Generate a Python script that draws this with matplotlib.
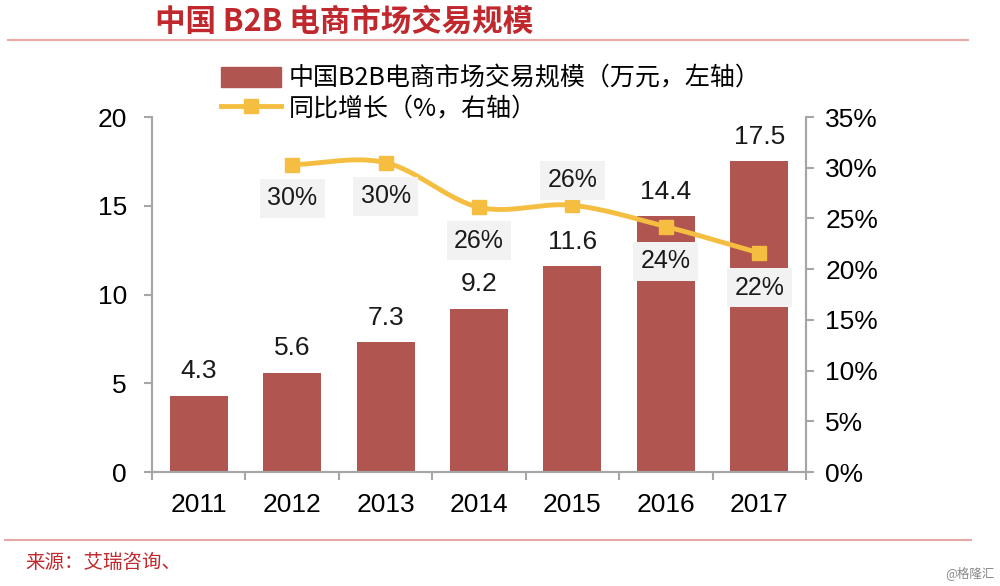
import numpy as np
import matplotlib
matplotlib.use("Agg")
import matplotlib.pyplot as plt
from matplotlib.lines import Line2D
from matplotlib.patches import Patch

years = ["2011", "2012", "2013", "2014", "2015", "2016", "2017"]
scale = [4.3, 5.6, 7.3, 9.2, 11.6, 14.4, 17.5]
growth_years = ["2012", "2013", "2014", "2015", "2016", "2017"]
growth = [30.3, 30.5, 26.1, 26.3, 24.2, 21.6]
growth_labels = ["30%", "30%", "26%", "26%", "24%", "22%"]
left_ticks = [0, 5, 10, 15, 20]
right_ticks = [0, 5, 10, 15, 20, 25, 30, 35]

BAR = "#B0554F"
LINE = "#F5BE41"
SPINE = "#A6A6A6"
RED = "#C0282D"
NUM = ["Liberation Sans", "Noto Sans CJK SC"]
CJK = ["Noto Sans CJK SC", "Liberation Sans"]
FS = 19

fig = plt.figure(figsize=(10, 5.86), dpi=100)
ax = fig.add_axes([0.152, 0.1945, 0.654, 0.6058])
ax2 = ax.twinx()

x = np.arange(len(years))
ax.bar(x, scale, width=0.62, color=BAR, zorder=2)
ax.set_xlim(-0.5, 6.5)
ax.set_ylim(0, 20)
ax.set_yticks(left_ticks)
ax.set_yticklabels([str(t) for t in left_ticks], family=NUM, fontsize=FS)
ax.set_xticks(x)
ax.set_xticklabels(years, family=NUM, fontsize=FS)
ax.set_xticks(np.arange(len(years) + 1) - 0.5, minor=True)
ax.tick_params(axis="x", which="major", length=0, pad=15)
ax.tick_params(axis="x", which="minor", length=6, width=1.5, color=SPINE)
ax.tick_params(axis="y", length=6, width=1.5, color=SPINE, pad=12)

for a in (ax, ax2):
    a.spines["top"].set_visible(False)
    for s in ("left", "right", "bottom"):
        a.spines[s].set_color(SPINE)
        a.spines[s].set_linewidth(1.5)

for xi, v in zip(x, scale):
    ax.annotate(f"{v}", (xi, v), xytext=(0, 9), textcoords="offset points",
                ha="center", va="bottom", fontsize=FS, family=NUM, color="#1a1a1a")

ax2.set_ylim(0, 35)
ax2.set_yticks(right_ticks)
ax2.set_yticklabels([f"{t}%" for t in right_ticks], family=NUM, fontsize=FS)
ax2.tick_params(axis="y", length=6, width=1.5, color=SPINE, pad=8)

gx = np.array([years.index(y) for y in growth_years], dtype=float)
gy = np.array(growth, dtype=float)

# smooth (Catmull-Rom) rendering of the line through the data points
px = np.concatenate([[2 * gx[0] - gx[1]], gx, [2 * gx[-1] - gx[-2]]])
py = np.concatenate([[2 * gy[0] - gy[1]], gy, [2 * gy[-1] - gy[-2]]])
cx, cy = [], []
t = np.linspace(0, 1, 30)
for i in range(1, len(px) - 2):
    for P, out in ((px, cx), (py, cy)):
        p0, p1, p2, p3 = P[i - 1], P[i], P[i + 1], P[i + 2]
        out.extend(0.5 * ((2 * p1) + (-p0 + p2) * t + (2 * p0 - 5 * p1 + 4 * p2 - p3) * t ** 2
                          + (-p0 + 3 * p1 - 3 * p2 + p3) * t ** 3))
ax2.plot(cx, cy, color=LINE, lw=3.5, zorder=3)
ax2.plot(gx, gy, ls="none", marker="s", ms=10, color=LINE, zorder=4)

offsets = [-24, -24, -24, 18, -25, -25]
for xi, v, lab, off in zip(gx, gy, growth_labels, offsets):
    ax2.annotate(lab, (xi, v), xytext=(0, off), textcoords="offset points",
                 ha="center", va="center", fontsize=FS - 1, family=NUM, color="#1a1a1a",
                 bbox=dict(boxstyle="square,pad=0.3", fc="#F2F2F2", ec="none"), zorder=5)

handles = [Patch(color=BAR),
           Line2D([0], [0], color=LINE, lw=3.5, marker="s", ms=10)]
labels = ["中国B2B电商市场交易规模（万元，左轴）", "同比增长（%，右轴）"]
fig.legend(handles, labels, loc="upper left", bbox_to_anchor=(0.211, 0.905),
           frameon=False, prop=dict(family=CJK, size=18), handlelength=2.4,
           handleheight=0.8, handletextpad=0.3, labelspacing=0.15, borderaxespad=0)

fig.text(0.155, 0.963, "中国 B2B 电商市场交易规模", family=CJK, fontsize=22,
         fontweight="bold", style="italic", color=RED, va="center", ha="left")
fig.add_artist(Line2D([0.008, 0.968], [0.931, 0.931], color="#E8A8A8", lw=1.5))
fig.add_artist(Line2D([0.005, 0.971], [0.079, 0.079], color="#E8A8A8", lw=1.5))
fig.text(0.025, 0.040, "来源：艾瑞咨询、", family=CJK, fontsize=14, color=RED,
         va="center", ha="left")
fig.text(0.995, 0.022, "@格隆汇", family=CJK, fontsize=9, color="#888888",
         va="center", ha="right")

fig.savefig("out.png", dpi=100)
